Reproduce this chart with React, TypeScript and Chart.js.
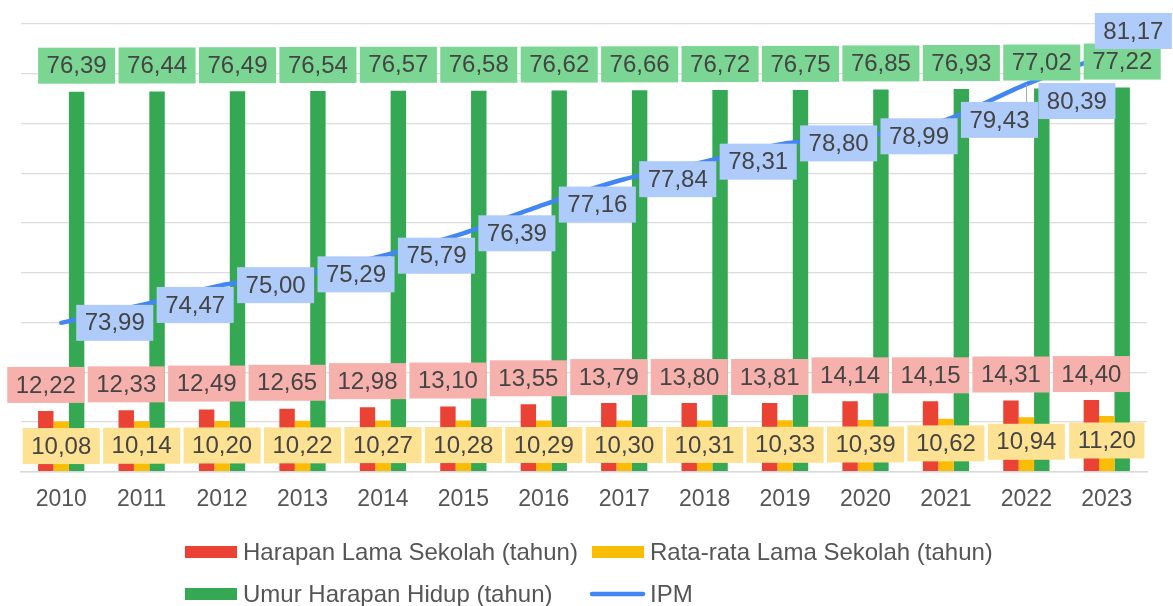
import React, { useEffect, useRef } from 'react';
import { Chart, registerables } from 'chart.js';

Chart.register(...registerables);

const years = ['2010', '2011', '2012', '2013', '2014', '2015', '2016', '2017', '2018', '2019', '2020', '2021', '2022', '2023'];
const harapanLamaSekolah = [12.22, 12.33, 12.49, 12.65, 12.98, 13.1, 13.55, 13.79, 13.8, 13.81, 14.14, 14.15, 14.31, 14.4];
const rataRataLamaSekolah = [10.08, 10.14, 10.2, 10.22, 10.27, 10.28, 10.29, 10.3, 10.31, 10.33, 10.39, 10.62, 10.94, 11.2];
const umurHarapanHidup = [76.39, 76.44, 76.49, 76.54, 76.57, 76.58, 76.62, 76.66, 76.72, 76.75, 76.85, 76.93, 77.02, 77.22];
const ipm = [73.99, 74.47, 75.0, 75.29, 75.79, 76.39, 77.16, 77.84, 78.31, 78.8, 78.99, 79.43, 80.39, 81.17];
const seriesNames = ['Harapan Lama Sekolah (tahun)', 'Rata-rata Lama Sekolah (tahun)', 'Umur Harapan Hidup (tahun)', 'IPM'];

const FONT = "'Liberation Sans', Arial, Helvetica, sans-serif";
const RED = '#ea4335';
const YELLOW = '#fbbc04';
const GREEN = '#34a853';
const BLUE = '#4285f4';
const RED_BG = '#f6b1ac';
const YELLOW_BG = '#fde293';
const GREEN_BG = '#7bd593';
const BLUE_BG = '#aecbfa';
const TEXT = '#444444';

const fmt = (v: number) => v.toFixed(2).replace('.', ',');

function drawBox(ctx: CanvasRenderingContext2D, left: number, cy: number, text: string, bg: string) {
  ctx.font = `24px ${FONT}`;
  const tw = ctx.measureText(text).width;
  const bw = tw + 17;
  const bh = 36;
  ctx.fillStyle = bg;
  ctx.fillRect(left, cy - bh / 2, bw, bh);
  ctx.fillStyle = TEXT;
  ctx.textAlign = 'center';
  ctx.textBaseline = 'middle';
  ctx.fillText(text, left + bw / 2, cy + 1);
}

function boxWidth(ctx: CanvasRenderingContext2D, text: string) {
  ctx.font = `24px ${FONT}`;
  return ctx.measureText(text).width + 17;
}

const labelPlugin = {
  id: 'boxLabels',
  afterDatasetsDraw(chart: any) {
    const ctx: CanvasRenderingContext2D = chart.ctx;
    ctx.save();
    const green = chart.getDatasetMeta(2);
    green.data.forEach((el: any, i: number) => {
      const t = fmt(umurHarapanHidup[i]);
      drawBox(ctx, el.x - boxWidth(ctx, t) / 2, el.y - 26, t, GREEN_BG);
    });
    const red = chart.getDatasetMeta(0);
    red.data.forEach((el: any, i: number) => {
      const t = fmt(harapanLamaSekolah[i]);
      drawBox(ctx, el.x - boxWidth(ctx, t) / 2, el.y - 26, t, RED_BG);
    });
    const yellow = chart.getDatasetMeta(1);
    yellow.data.forEach((el: any, i: number) => {
      const t = fmt(rataRataLamaSekolah[i]);
      drawBox(ctx, el.x - boxWidth(ctx, t) / 2, el.y + 24.5, t, YELLOW_BG);
    });
    const line = chart.getDatasetMeta(3);
    line.data.forEach((el: any, i: number) => {
      const t = fmt(ipm[i]);
      const n = line.data.length;
      if (i === n - 2) {
        ctx.strokeStyle = '#aaaaaa';
        ctx.lineWidth = 1;
        ctx.beginPath();
        ctx.moveTo(Math.round(el.x) + 0.5, el.y);
        ctx.lineTo(Math.round(el.x) + 0.5, el.y + 18);
        ctx.stroke();
        drawBox(ctx, el.x + 12, el.y + 17, t, BLUE_BG);
      } else if (i === n - 1) {
        drawBox(ctx, el.x - 12, el.y - 24, t, BLUE_BG);
      } else {
        drawBox(ctx, el.x + 15, el.y, t, BLUE_BG);
      }
    });
    ctx.restore();
  },
};

const legendPlugin = {
  id: 'customLegend',
  afterDraw(chart: any) {
    const ctx: CanvasRenderingContext2D = chart.ctx;
    ctx.save();
    ctx.font = `24px ${FONT}`;
    ctx.textBaseline = 'middle';
    ctx.textAlign = 'left';
    const items = [
      { x: 185, y: 552, color: RED, kind: 'box', name: seriesNames[0] },
      { x: 592, y: 552, color: YELLOW, kind: 'box', name: seriesNames[1] },
      { x: 185, y: 594, color: GREEN, kind: 'box', name: seriesNames[2] },
      { x: 592, y: 594, color: BLUE, kind: 'line', name: seriesNames[3] },
    ];
    items.forEach((it) => {
      if (it.kind === 'box') {
        ctx.fillStyle = it.color;
        ctx.fillRect(it.x, it.y - 6, 52, 12);
      } else {
        ctx.strokeStyle = it.color;
        ctx.lineWidth = 4.5;
        ctx.lineCap = 'round';
        ctx.beginPath();
        ctx.moveTo(it.x, it.y);
        ctx.lineTo(it.x + 51, it.y);
        ctx.stroke();
      }
      ctx.fillStyle = '#555555';
      ctx.fillText(it.name, it.x + 58, it.y + 1);
    });
    ctx.restore();
  },
};

export default function App() {
  const ref = useRef<HTMLCanvasElement>(null);
  useEffect(() => {
    if (!ref.current) return;
    const chart = new Chart(ref.current, {
      type: 'bar',
      data: {
        labels: years,
        datasets: [
          { label: seriesNames[0], data: harapanLamaSekolah, backgroundColor: RED, yAxisID: 'y', order: 1 },
          { label: seriesNames[1], data: rataRataLamaSekolah, backgroundColor: YELLOW, yAxisID: 'y', order: 1 },
          { label: seriesNames[2], data: umurHarapanHidup, backgroundColor: GREEN, yAxisID: 'y', order: 1 },
          {
            type: 'line',
            label: seriesNames[3],
            data: ipm,
            borderColor: BLUE,
            backgroundColor: BLUE,
            borderWidth: 4.5,
            borderCapStyle: 'round',
            pointRadius: 0,
            tension: 0.25,
            yAxisID: 'y1',
            order: 0,
          } as any,
        ],
      },
      options: {
        responsive: false,
        animation: false,
        devicePixelRatio: 1,
        datasets: { bar: { categoryPercentage: 0.575, barPercentage: 1.0 } },
        layout: { padding: { left: 21, right: 26, top: 24, bottom: 0 } },
        plugins: { legend: { display: false }, tooltip: { enabled: false } },
        scales: {
          x: {
            grid: { display: false, drawTicks: false },
            border: { display: true, color: '#d9d9d9', width: 1.6 },
            ticks: { font: { family: FONT, size: 23 }, color: '#555555', padding: 14 },
            afterFit: (s: any) => { s.height = 134.3; },
          },
          y: {
            min: 0,
            max: 90,
            ticks: { display: false, stepSize: 10 },
            grid: { color: '#dcdcdc', lineWidth: 1.3, drawTicks: false },
            border: { display: false },
            afterFit: (s: any) => { s.width = 0; },
          },
          y1: {
            display: false,
            position: 'right',
            min: 70,
            max: 82,
            grid: { display: false },
          },
        },
      },
      plugins: [labelPlugin, legendPlugin],
    } as any);
    return () => chart.destroy();
  }, []);
  return (
    <div style={{ position: 'fixed', left: 0, top: 0, width: 1173, height: 606, background: '#fff' }}>
      <canvas ref={ref} width={1173} height={606} style={{ width: 1173, height: 606, display: 'block' }} />
    </div>
  );
}
